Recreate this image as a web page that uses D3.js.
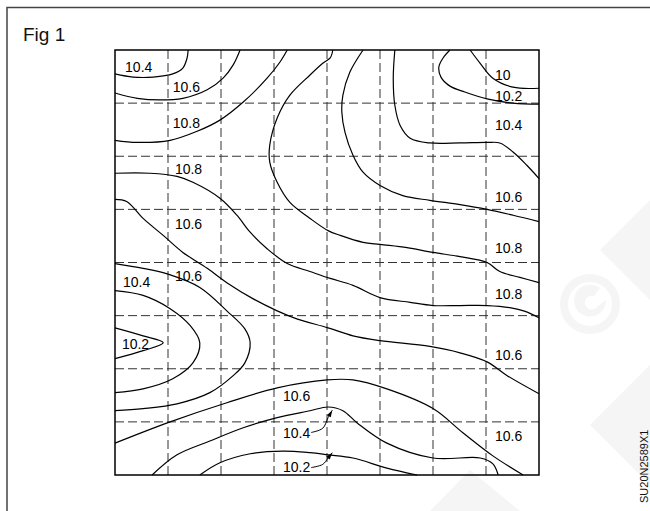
<!DOCTYPE html>
<html><head><meta charset="utf-8">
<script src="https://cdn.jsdelivr.net/npm/d3@7"></script>
<style>body{margin:0;background:#fff}svg{display:block}</style>
</head><body>
<svg id="chart" width="650" height="511"></svg>
<script>
// grid: 8 x 8 cells, coordinates in grid units (u to the right, v downward)
const gridTicks = [1,2,3,4,5,6,7];

const c10_4TL = [[0,0.45],[0.34,0.51],[0.72,0.51],[1.09,0.45],[1.28,0.34],[1.36,0.15],[1.38,0]];
const c10_6TL = [[0,0.81],[0.42,0.91],[0.85,0.94],[1.28,0.91],[1.74,0.75],[2.04,0.53],[2.23,0.28],[2.36,0]];
const c10_8TL = [[0,1.70],[0.42,1.74],[1.04,1.70],[1.55,1.53],[1.98,1.32],[2.42,0.98],[2.87,0.53],[3.11,0.23],[3.25,0]];
const c10_8Arc = [[4.11,0],[4.06,0.15],[3.92,0.25],[3.68,0.47],[3.30,0.85],[3.06,1.28],[2.92,1.79],[2.92,2.11],[3.06,2.49],[3.30,2.87],[3.68,3.17],[4.02,3.40],[4.25,3.49],[4.68,3.62],[5.0,3.66],[5.51,3.72],[6.0,3.81],[6.51,3.89],[7.02,4.0],[7.26,4.17],[7.64,4.28],[8,4.38]];
const c10_8Mid = [[0,2.32],[0.66,2.32],[1.17,2.38],[1.47,2.49],[1.98,2.79],[2.30,3.11],[2.55,3.43],[2.87,3.74],[3.25,4.02],[3.68,4.17],[4.06,4.30],[4.49,4.43],[5.0,4.66],[5.57,4.75],[6.0,4.81],[6.51,4.81],[7.02,4.81],[7.45,4.85],[7.74,4.92],[8,5.04]];
const c10_6Mid = [[0,2.81],[0.22,2.85],[0.53,3.17],[0.91,3.49],[1.28,3.81],[1.74,4.11],[2.11,4.38],[2.60,4.68],[3.06,4.91],[3.43,5.06],[4.02,5.23],[4.49,5.38],[5.0,5.47],[5.94,5.58],[6.51,5.70],[7.02,5.87],[7.40,6.13],[8,6.47]];
const c10_6TR = [[4.68,0],[4.43,0.42],[4.30,0.85],[4.28,1.17],[4.34,1.55],[4.49,1.98],[4.68,2.30],[5.0,2.55],[5.43,2.74],[5.94,2.83],[6.51,2.91],[7.02,3.0],[7.51,3.11],[8,3.23]];
const c10_4TR = [[5.28,0],[5.25,0.53],[5.28,1.04],[5.38,1.42],[5.57,1.66],[5.94,1.75],[6.51,1.75],[7.02,1.74],[7.26,1.75],[7.51,1.92],[7.77,2.17],[8,2.42]];
const c10_2TR = [[6.32,0],[6.19,0.15],[6.11,0.32],[6.15,0.51],[6.32,0.68],[6.60,0.79],[7.02,0.92],[7.51,1.0],[8,1.02]];
const c10_0TR = [[6.70,0],[6.89,0.25],[7.13,0.53],[7.51,0.70],[8,0.72]];
const c10_6Left = [[0,4.02],[0.53,4.11],[1.0,4.22],[1.60,4.47],[2.11,4.91],[2.45,5.25],[2.55,5.51],[2.45,5.89],[2.23,6.13],[1.79,6.45],[1.17,6.66],[0.53,6.75],[0,6.79]];
const c10_4Left = [[0,4.53],[0.53,4.62],[1.04,4.87],[1.42,5.19],[1.60,5.51],[1.47,5.89],[1.09,6.19],[0.53,6.38],[0,6.45]];
const c10_2Left = [[0,5.23],[0.53,5.38],[0.91,5.51],[0.53,5.66],[0,5.81]];
const c10_6Low = [[0,7.40],[1.04,7.0],[2.11,6.64],[3.06,6.36],[4.0,6.21],[4.49,6.21],[5.13,6.38],[6.0,6.75],[6.57,7.21],[7.13,7.64],[7.70,8]];
const c10_4Low = [[0.70,8],[1.17,7.62],[1.79,7.36],[2.42,7.11],[3.06,6.92],[3.68,6.79],[4.02,6.72],[4.30,6.79],[4.57,7.02],[5.13,7.40],[6.0,7.68],[6.89,7.68],[7.13,7.79],[7.23,8]];
const c10_2Low = [[1.60,8],[1.98,7.77],[2.55,7.60],[3.17,7.55],[3.68,7.58],[4.02,7.62],[4.49,7.68],[5.13,7.87],[5.70,8]];

const contours = [c10_4TL,c10_6TL,c10_8TL,c10_8Arc,c10_8Mid,c10_6Mid,c10_6TR,c10_4TR,c10_2TR,c10_0TR,
                  c10_6Left,c10_4Left,c10_2Left,c10_6Low,c10_4Low,c10_2Low];

const labelText = ["10.4","10.6","10.8","10.8","10.6","10.4","10.6","10.2","10.6","10.4","10.2",
                   "10","10.2","10.4","10.6","10.8","10.8","10.6","10.6"];
const labelU = [0.19,1.09,1.09,1.13,1.13,0.15,1.13,0.13,3.17,3.17,3.17, 7.17,7.17,7.17,7.17,7.17,7.17,7.17,7.17];
const labelV = [0.42,0.79,1.47,2.34,3.36,4.47,4.34,5.62,6.60,7.30,7.94, 0.57,0.96,1.51,2.87,3.83,4.68,5.83,7.36];

const leader10_4 = [[3.70,7.20],[3.92,7.12],[4.02,6.92],[4.10,6.78]];
const leader10_2 = [[3.70,7.86],[3.92,7.80],[4.02,7.68],[4.10,7.58]];

const svg = d3.select("#chart");
const x = d3.scaleLinear().domain([0,8]).range([115,539]);
const y = d3.scaleLinear().domain([0,8]).range([50,475]);

// faint watermark shapes
const wc = "#f5f5f5";
const wm = svg.append("g").attr("fill",wc);
wm.append("circle").attr("cx",590).attr("cy",304).attr("r",26).attr("fill","none").attr("stroke",wc).attr("stroke-width",8);
wm.append("path").attr("d","M606,300 A16,16 0 1 1 600,288 L594,296 A7,7 0 1 0 598,306 Z");
wm.append("path").attr("d","M650,200 L600,250 L650,300 Z");
wm.append("path").attr("d","M650,365 L590,425 L650,485 Z");
wm.append("path").attr("d","M430,511 L470,470 L520,511 Z");

// outer frame
svg.append("path").attr("d","M7,511 L7,7.5 L650,7.5").attr("fill","none").attr("stroke","#444").attr("stroke-width",1.5);

svg.append("text").attr("x",23).attr("y",41).attr("font-family","Liberation Sans, Arial, sans-serif")
  .attr("font-size",19).attr("fill","#111").text("Fig 1");

// dashed grid
const g = svg.append("g");
g.selectAll(".vx").data(gridTicks).enter().append("line")
  .attr("x1",d=>x(d)).attr("x2",d=>x(d)).attr("y1",y(0)).attr("y2",y(8))
  .attr("stroke","#333").attr("stroke-width",1).attr("stroke-dasharray","9,4");
g.selectAll(".hy").data(gridTicks).enter().append("line")
  .attr("y1",d=>y(d)).attr("y2",d=>y(d)).attr("x1",x(0)).attr("x2",x(8))
  .attr("stroke","#333").attr("stroke-width",1).attr("stroke-dasharray","9,4");

// contours
const line = d3.line().x(d=>x(d[0])).y(d=>y(d[1])).curve(d3.curveCatmullRom.alpha(0.5));
g.selectAll(".ct").data(contours).enter().append("path")
  .attr("d",line).attr("fill","none").attr("stroke","#000").attr("stroke-width",1.2);

// box
g.append("rect").attr("x",x(0)).attr("y",y(0)).attr("width",x(8)-x(0)).attr("height",y(8)-y(0))
  .attr("fill","none").attr("stroke","#000").attr("stroke-width",1.5);

// labels
g.selectAll(".lb").data(labelText).enter().append("text")
  .attr("x",(d,i)=>x(labelU[i])).attr("y",(d,i)=>y(labelV[i]))
  .attr("font-family","Liberation Sans, Arial, sans-serif").attr("font-size",14).attr("fill","#000")
  .text(d=>d);

// leaders with arrowheads
[leader10_4, leader10_2].forEach(L=>{
  g.append("path").attr("d",line(L)).attr("fill","none").attr("stroke","#000").attr("stroke-width",1);
  const p1=L[L.length-2], p2=L[L.length-1];
  const X2=x(p2[0]),Y2=y(p2[1]),X1=x(p1[0]),Y1=y(p1[1]);
  const a=Math.atan2(Y2-Y1,X2-X1), len=7, w=2.2;
  const bx=X2-len*Math.cos(a), by=Y2-len*Math.sin(a);
  g.append("path").attr("d",`M${X2},${Y2} L${bx+w*Math.sin(a)},${by-w*Math.cos(a)} L${bx-w*Math.sin(a)},${by+w*Math.cos(a)} Z`).attr("fill","#000");
});

// side code
svg.append("text").attr("transform","translate(648,503) rotate(-90)")
  .attr("font-family","Liberation Sans, Arial, sans-serif").attr("font-size",11).attr("fill","#111")
  .text("SU20N2589X1");
</script>
</body></html>
